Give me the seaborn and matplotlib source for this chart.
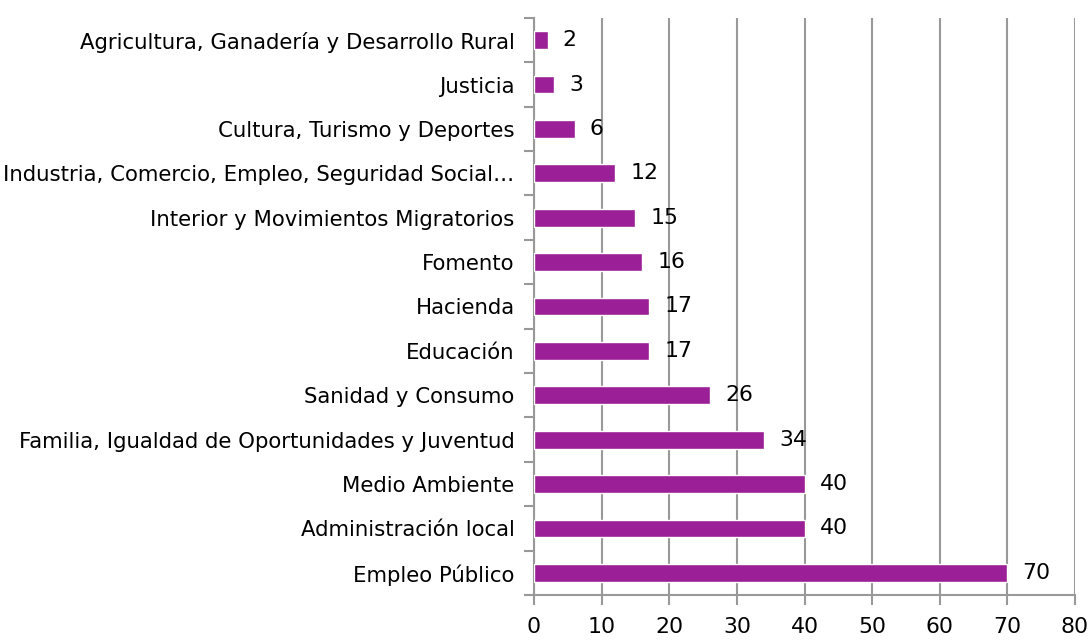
import matplotlib
matplotlib.use("Agg")
import matplotlib.pyplot as plt
import seaborn as sns
import pandas as pd
import numpy as np

categories = [
    "Agricultura, Ganadería y Desarrollo Rural",
    "Justicia",
    "Cultura, Turismo y Deportes",
    "Industria, Comercio, Empleo, Seguridad Social…",
    "Interior y Movimientos Migratorios",
    "Fomento",
    "Hacienda",
    "Educación",
    "Sanidad y Consumo",
    "Familia, Igualdad de Oportunidades y Juventud",
    "Medio Ambiente",
    "Administración local",
    "Empleo Público",
]
values = [2, 3, 6, 12, 15, 16, 17, 17, 26, 34, 40, 40, 70]
x_ticks = [0, 10, 20, 30, 40, 50, 60, 70, 80]

sns.set_theme(style="white")
plt.rcParams['font.family'] = ['DejaVu Sans']
plt.rcParams['text.color'] = 'black'
plt.rcParams['xtick.color'] = 'black'
plt.rcParams['ytick.color'] = 'black'

FS = 15.3
FS_NUM = 15.8

df = pd.DataFrame({"cat": categories, "val": values})

fig = plt.figure(figsize=(10.91, 6.4), dpi=100)
ax = fig.add_axes([0.4895, 0.0703, 0.9853 - 0.4895, 0.972 - 0.0703])

sns.barplot(data=df, y="cat", x="val", orient="h", color="#9B1F96",
            saturation=1, width=0.4, ax=ax, zorder=3)

grid_c = "#999999"
ax.set_xlim(0, 80)
ax.set_xticks(x_ticks)
ax.set_xticklabels([str(t) for t in x_ticks], fontsize=FS_NUM, color="black")
ax.set_ylim(len(categories) - 0.5, -0.5)
ax.set_xlabel("")
ax.set_ylabel("")
ax.xaxis.grid(True, color=grid_c, linewidth=1.5, zorder=0)
ax.set_axisbelow(True)

for s in ["top", "right"]:
    ax.spines[s].set_visible(False)
for s in ["left", "bottom"]:
    ax.spines[s].set_color(grid_c)
    ax.spines[s].set_linewidth(1.5)

# y ticks: labels at centers, tick marks at boundaries
ax.set_yticks(range(len(categories)))
ax.set_yticklabels(categories, fontsize=FS, color="black")
ax.tick_params(axis="y", which="major", length=0, pad=14)
ax.set_yticks(np.arange(-0.5, len(categories), 1.0), minor=True)
ax.tick_params(axis="y", which="minor", length=7, width=1.5, color=grid_c, left=True)
ax.tick_params(axis="x", which="major", length=7, width=1.5, color=grid_c, bottom=True, pad=9)

for c in ax.containers:
    ax.bar_label(c, labels=[str(v) for v in values], padding=11, fontsize=FS_NUM, color="black")

fig.savefig("out.png", dpi=100)
